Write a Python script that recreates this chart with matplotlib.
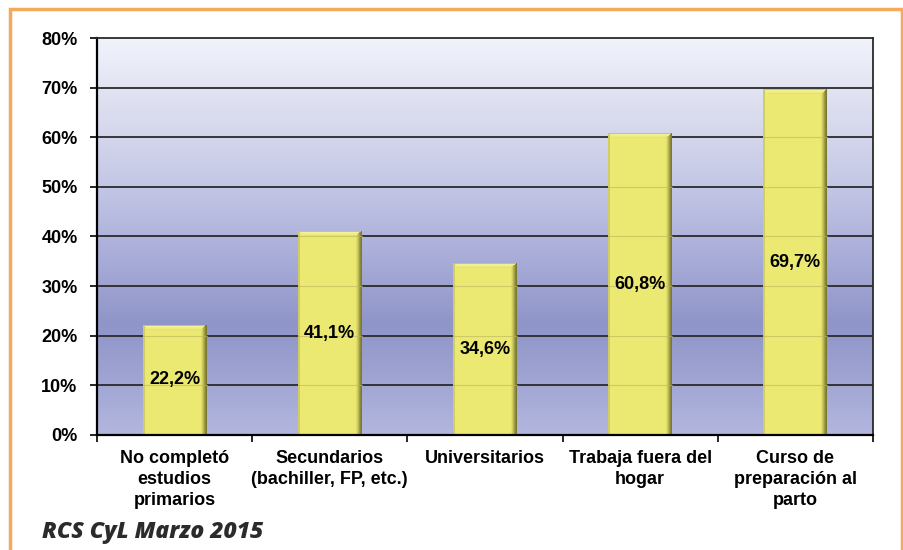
import matplotlib
matplotlib.use('Agg')
import matplotlib.pyplot as plt
import numpy as np
from matplotlib.colors import LinearSegmentedColormap
from matplotlib.patches import Rectangle

# data
categories = ["No completó\nestudios\nprimarios",
              "Secundarios\n(bachiller, FP, etc.)",
              "Universitarios",
              "Trabaja fuera del\nhogar",
              "Curso de\npreparación al\nparto"]
values = [22.2, 41.1, 34.6, 60.8, 69.7]
value_labels = ["22,2%", "41,1%", "34,6%", "60,8%", "69,7%"]
yticks = [0, 10, 20, 30, 40, 50, 60, 70, 80]

plt.rcParams['font.family'] = ['Liberation Sans', 'DejaVu Sans']

fig = plt.figure(figsize=(9.04, 5.5), dpi=100)
ax = fig.add_axes([0.1073, 0.2091, 0.8584, 0.7218])

x = np.arange(len(values))
ax.set_xlim(-0.5, len(values) - 0.5)
ax.set_ylim(0, 80)

# background gradient of the plot area (bottom -> top)
bg = LinearSegmentedColormap.from_list('bg', [
    (0.0, '#b3b7df'), (0.14, '#9fa4d2'), (0.28, '#9095c9'),
    (0.45, '#a9add8'), (0.65, '#c7cae6'), (0.85, '#dfe1f1'), (1.0, '#f1f3fb')])
grad = np.linspace(0, 1, 256).reshape(-1, 1)
ax.imshow(grad, cmap=bg, aspect='auto', origin='lower',
          extent=(-0.5, len(values) - 0.5, 0, 80), zorder=0)

# grid lines
for t in yticks[1:-1]:
    ax.axhline(t, color='#2a2a2a', lw=1.3, zorder=1)

# bars with a bevel look
w = 0.412
px = 1 / 155.2          # one pixel in x data units
py = 80 / 397.0         # one pixel in y data units
ax.bar(x, values, width=w, color='#ece972', edgecolor='none', zorder=2)

# right edge: shading from bar colour to dark olive
right_cols = ['#e0dd6a', '#cfcc60', '#b8b653', '#a09e45', '#8a8838', '#7a792f']
for k, c in enumerate(right_cols):
    ax.bar(x + w / 2 - (len(right_cols) - k - 0.5) * px, values, width=px * 1.05,
           color=c, edgecolor='none', zorder=3)
# left edge: thin darker line
ax.bar(x - w / 2 + px, values, width=px * 2, color='#cfcd63', edgecolor='none', zorder=3)

# top bevel
top_cols = ['#c9c761', '#f3f195', '#f0ee88', '#eeec7e', '#e3e172']
for xi, v in zip(x, values):
    for k, c in enumerate(top_cols):
        ax.add_patch(Rectangle((xi - w / 2 + (k + 1) * px, v - (k + 1) * py),
                               w - (k + 1) * px - (k + 1) * px * 1.2, py * 1.05,
                               color=c, zorder=3.5, lw=0))

# faint lines across bars where the grid passes behind
for t in yticks[1:-1]:
    for xi, v in zip(x, values):
        if t < v - 1:
            ax.plot([xi - w / 2, xi + w / 2], [t, t], color='#b9b65e', lw=0.8,
                    alpha=0.6, zorder=3.2)

# value labels in the middle of each bar
for xi, v, lab in zip(x, values, value_labels):
    ax.text(xi, v / 2, lab, ha='center', va='center', fontsize=13,
            fontweight='bold', color='black', zorder=5)

# axes styling
ax.set_yticks(yticks)
ax.set_yticklabels([f"{t}%" for t in yticks], fontsize=13, fontweight='bold')
ax.set_xticks(np.arange(-0.5, len(values)), minor=False)
ax.set_xticklabels([])
ax.set_xticks(x, minor=True)
ax.set_xticklabels(categories, minor=True, fontsize=13, fontweight='bold',
                   linespacing=1.28)
ax.tick_params(axis='x', which='minor', length=0, pad=11)
ax.tick_params(axis='x', which='major', length=5, width=1.2, direction='out')
ax.tick_params(axis='y', length=5, width=1.2, direction='out', pad=9)
for side in ['left', 'bottom']:
    ax.spines[side].set_linewidth(1.6)
    ax.spines[side].set_color('black')
for side in ['top', 'right']:
    ax.spines[side].set_linewidth(1.3)
    ax.spines[side].set_color('#2a2a2a')
for sp in ax.spines.values():
    sp.set_zorder(6)

# orange frame of the figure
fig.patches.append(Rectangle((0.011, -0.05), 0.987, 1.034, transform=fig.transFigure,
                             fill=False, edgecolor='#f5a95c', lw=2.5))

fig.text(0.047, 0.022, "RCS CyL Marzo 2015", fontsize=16.5, fontweight='heavy',
         style='italic', color='#2b2b2b', family=['Open Sans', 'DejaVu Sans'])

plt.savefig('out.png', dpi=100)
